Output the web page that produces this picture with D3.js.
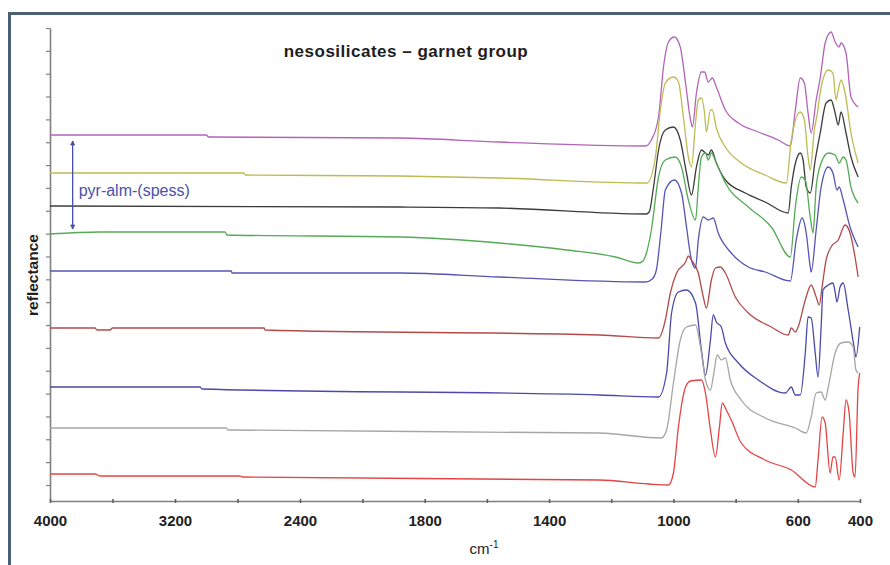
<!DOCTYPE html>
<html>
<head>
<meta charset="utf-8">
<script src="https://cdn.jsdelivr.net/npm/d3@7"></script>
<style>
  html, body { margin: 0; padding: 0; background: #ffffff; }
  svg { display: block; }
  text { font-family: "Liberation Sans", Arial, sans-serif; }
</style>
</head>
<body>
<svg id="chart" width="890" height="565"></svg>
<script>
// ---- data (wavenumber cm-1, reflectance in arbitrary offset units) ----
const title = "nesosilicates \u2013 garnet group";
const xTicks = [4000, 3600, 3200, 2800, 2400, 2000, 1800, 1600, 1400, 1200, 1000, 800, 600, 400];
const xTickLabels = [4000, 3200, 2400, 1800, 1400, 1000, 600, 400];
const seriesColors = ["#b264b8", "#bdbb52", "#3c3c3c", "#55aa55", "#5555b4", "#b24a4a", "#4a4aaa", "#a6a6a6", "#e54444"];

const s1 = [[4000,366],[3000,366],[2985,364],[1880,363],[1560,359],[1090,355],[1071,361],[1048,384],[1032,434],[1016,459],[997,464],[978,454],[961,418],[945,381],[939,374],[926,408],[910,429],[900,429],[888,419],[875,423],[862,414],[833,391],[791,378],[727,369],[663,361],[624,355],[608,391],[592,423],[579,418],[567,388],[557,368],[541,401],[528,423],[512,458],[493,469],[480,459],[467,454],[461,458],[445,448],[429,404],[406,394]];
const s2 = [[4000,328],[2760,328],[2750,326],[1880,325],[1560,323],[1085,318],[1058,344],[1042,391],[1026,418],[1000,424],[984,419],[968,384],[952,344],[942,334],[929,378],[920,401],[910,403],[900,388],[894,369],[881,391],[875,391],[862,373],[833,354],[782,338],[705,326],[637,318],[621,361],[592,389],[579,381],[567,344],[560,331],[547,371],[538,386],[525,414],[502,431],[487,428],[477,401],[470,411],[461,421],[448,408],[429,368],[406,338]];
const s3 = [[4000,295],[1880,294],[1560,293],[1088,287],[1078,289],[1064,314],[1048,351],[1026,371],[1000,374],[978,361],[958,328],[942,306],[926,334],[910,351],[897,348],[888,346],[878,351],[862,338],[833,321],[769,308],[705,299],[631,288],[621,314],[605,341],[592,348],[583,341],[573,314],[560,308],[544,341],[528,368],[509,398],[493,401],[480,388],[470,376],[461,389],[445,368],[429,344],[406,324]];
const s4 = [[4000,267],[3680,269],[2880,269],[2867,266],[1880,264],[1560,258],[1344,251],[1186,244],[1112,238],[1098,240],[1085,250],[1071,271],[1048,324],[1026,341],[994,344],[974,334],[952,301],[929,281],[920,314],[910,344],[897,348],[888,341],[878,348],[862,338],[833,318],[759,294],[685,274],[624,244],[608,294],[589,324],[576,321],[560,284],[551,268],[541,314],[525,338],[502,348],[480,346],[467,338],[454,344],[445,341],[429,314],[406,298]];
const s5 = [[4000,230],[2840,230],[2835,228],[1880,228],[1560,224],[1090,219],[1068,222],[1055,231],[1040,270],[1026,311],[997,321],[974,308],[958,274],[942,241],[929,233],[920,261],[904,284],[888,281],[872,283],[856,268],[814,248],[759,234],[705,229],[624,220],[605,261],[586,283],[573,268],[560,234],[557,229],[541,271],[525,314],[502,334],[487,328],[474,311],[467,314],[454,301],[432,274],[406,254]];
const s6 = [[4000,173],[3712,173],[3699,171],[3616,171],[3600,173],[2630,173],[2624,171],[1238,166],[1048,163],[1026,181],[1010,208],[990,228],[961,239],[952,245],[942,241],[920,228],[904,204],[894,193],[878,221],[865,233],[849,234],[833,228],[801,204],[759,188],[685,174],[631,166],[621,173],[608,169],[599,174],[576,201],[557,216],[541,204],[531,196],[522,214],[509,241],[493,254],[470,261],[448,276],[432,268],[416,244],[406,224]];
const s7 = [[4000,114],[3040,114],[3027,112],[1238,106],[1048,104],[1022,128],[1006,188],[984,209],[958,211],[929,198],[910,151],[897,126],[881,161],[872,186],[862,179],[846,174],[833,158],[791,138],[727,121],[640,108],[621,114],[608,106],[592,106],[576,148],[567,184],[557,183],[544,148],[535,124],[525,174],[519,211],[502,216],[487,218],[480,209],[474,199],[464,214],[454,218],[438,191],[419,154],[413,144],[401,174]];
const s8 = [[4000,73],[2870,73],[2861,71],[1238,68],[1039,63],[1022,71],[1000,118],[978,161],[958,174],[929,176],[913,154],[897,121],[881,111],[872,124],[859,146],[846,141],[833,143],[817,121],[782,101],[705,83],[608,73],[573,68],[557,84],[541,108],[525,109],[512,101],[502,114],[480,148],[461,158],[438,159],[422,154],[413,131],[406,128]];
const s9 = [[4000,27],[3712,27],[3680,25],[2784,25],[2770,24],[1238,21],[1080,17],[1016,16],[1000,28],[984,74],[961,114],[945,120],[910,121],[897,108],[881,71],[865,44],[852,74],[843,98],[830,91],[814,81],[782,58],[705,41],[621,31],[544,14],[535,41],[522,84],[512,78],[496,28],[487,44],[480,44],[467,21],[454,68],[445,101],[435,88],[422,28],[416,24],[406,114],[401,128]];
const series = [s1, s2, s3, s4, s5, s6, s7, s8, s9];

// annotation: composition range arrow
const arrowWn = 3855;
const arrowRange = [360, 272];
const arrowLabel = "pyr-alm-(spess)";
const yTickCount = 21;
const yTickStart = 16, yTickStep = 22.85;

// ---- drawing ----
const svg = d3.select("#chart");

// frame
svg.append("rect")
  .attr("x", 9.5).attr("y", 13.5)
  .attr("width", 900).attr("height", 600)
  .attr("fill", "none").attr("stroke", "#4b6072").attr("stroke-width", 3);

const x = d3.scaleLinear().domain([4000, 2000, 400]).range([50, 362.5, 860]);
const y = d3.scaleLinear().domain([0, 473]).range([501, 28]);

// y axis
const yTicks = d3.range(yTickCount).map(k => yTickStart + k * yTickStep);
const yAxis = svg.append("g")
  .attr("transform", "translate(50,0)")
  .call(d3.axisLeft(y).tickValues(yTicks).tickSizeInner(4).tickSizeOuter(0).tickFormat(""));
yAxis.select(".domain").attr("stroke", "#808080").attr("stroke-width", 1.6);
yAxis.selectAll(".tick line").attr("stroke", "#808080").attr("stroke-width", 1.2);

// x axis
const xAxis = svg.append("g")
  .attr("transform", "translate(0,501)")
  .call(d3.axisBottom(x).tickValues(xTicks).tickSizeInner(2).tickSizeOuter(0)
    .tickFormat(d => xTickLabels.includes(d) ? d : ""));
xAxis.select(".domain").attr("stroke", "#808080").attr("stroke-width", 1.6);
xAxis.selectAll(".tick line").attr("y1", -2).attr("y2", 2).attr("stroke", "#606060").attr("stroke-width", 1.6);
xAxis.selectAll(".tick text")
  .attr("y", 0).attr("dy", 0).attr("transform", "translate(0,25)")
  .attr("fill", "#222").style("font-size", "15px").style("font-weight", "bold");

// curves
const line = d3.line().x(d => x(d[0])).y(d => y(d[1])).curve(d3.curveMonotoneX);
series.forEach((s, i) => {
  svg.append("path")
    .attr("d", line(s))
    .attr("fill", "none")
    .attr("stroke", seriesColors[i])
    .attr("stroke-width", 1.3)
    .attr("stroke-linejoin", "round");
});

// arrow annotation
const ax = x(arrowWn);
svg.append("line")
  .attr("x1", ax).attr("x2", ax)
  .attr("y1", y(arrowRange[0])).attr("y2", y(arrowRange[1]))
  .attr("stroke", "#4a50a8").attr("stroke-width", 1.3);
arrowRange.forEach((v, i) => {
  const yy = y(v), dir = i === 0 ? 1 : -1;
  svg.append("path")
    .attr("d", `M${ax - 2},${yy + dir * 4}L${ax},${yy}L${ax + 2},${yy + dir * 4}Z`)
    .attr("fill", "#4a50a8").attr("stroke", "#4a50a8").attr("stroke-width", 0.8);
});
svg.append("text")
  .attr("x", ax + 6).attr("y", 196)
  .attr("fill", "#4a50ac").style("font-size", "16px")
  .text(arrowLabel);

// title
svg.append("text")
  .attr("x", 406).attr("y", 57).attr("text-anchor", "middle")
  .attr("fill", "#1e1e1e").style("font-size", "17px").style("font-weight", "bold")
  .style("letter-spacing", "0.5px")
  .text(title);

// axis titles
const xt = svg.append("text")
  .attr("x", 484).attr("y", 554).attr("text-anchor", "middle")
  .attr("fill", "#222").style("font-size", "15px");
xt.append("tspan").text("cm");
xt.append("tspan").attr("dy", -6).style("font-size", "10px").text("-1");

svg.append("text")
  .attr("transform", "translate(38,275) rotate(-90)")
  .attr("text-anchor", "middle")
  .attr("fill", "#1e1e1e").style("font-size", "15.5px").style("font-weight", "bold")
  .text("reflectance");
</script>
</body>
</html>
